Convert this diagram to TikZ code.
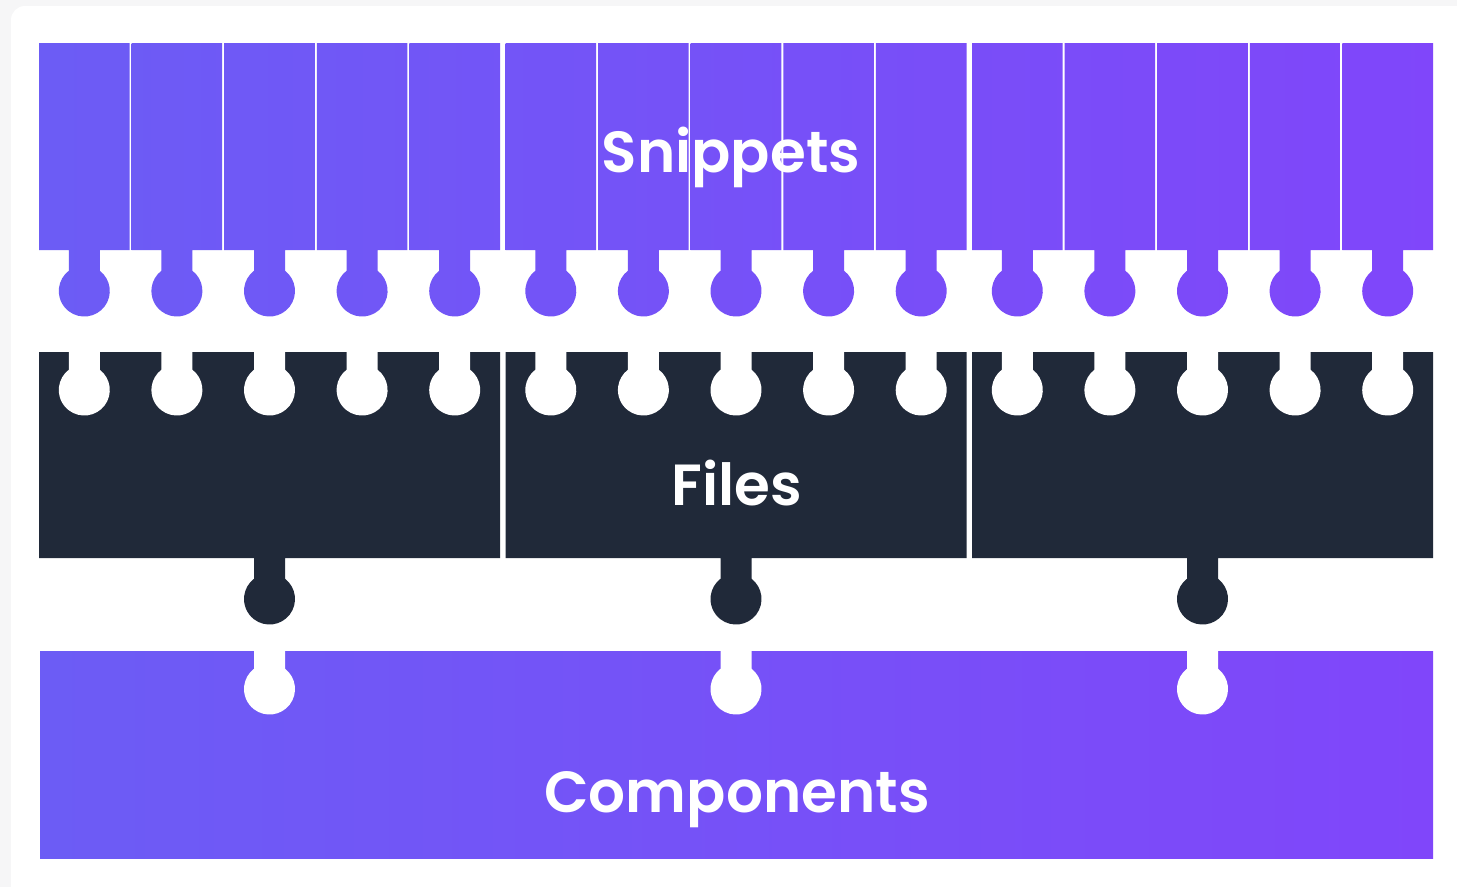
\documentclass[tikz,border=0pt]{standalone}
\usepackage{fontspec}
\newfontfamily\titlefont{Poppins SemiBold}

\definecolor{snipL}{RGB}{108,92,245}
\definecolor{snipR}{RGB}{128,70,250}
\definecolor{fileDark}{RGB}{32,41,57}
\definecolor{pageGrey}{RGB}{246,246,247}

\tikzset{
  title text/.style={text=white, font=\titlefont\fontsize{58}{58}\selectfont, anchor=base, inner sep=0pt},
}

\begin{document}
\begin{tikzpicture}[x=1pt,y=-1pt]
  \useasboundingbox (0,0) rectangle (1457,887);

  % Card
  \fill[pageGrey] (0,0) rectangle (1457,887);
  \fill[white, rounded corners=14pt] (11,6) rectangle (1480,910);

  % Snippets, three groups of five, each with a tab below
  \foreach \g in {0,1,2}{
    \foreach \c in {0,...,4}{
      \pgfmathsetmacro\xl{39+466.5*\g+92.6*\c}
      \pgfmathsetmacro\xr{\xl+90.6}
      \pgfmathsetmacro\cx{\xl+45.3}
      \pgfmathtruncatemacro\pl{(\xl-39)/13.94}
      \pgfmathtruncatemacro\pr{(\xr-39)/13.94}
      \shade[left color=snipR!\pl!snipL, right color=snipR!\pr!snipL]
        (\xl,43) -- (\xr,43) -- (\xr,250) -- (\cx+15.5,250) -- (\cx+15.5,270.75)
        arc[start angle=-52.57, end angle=232.57, radius=25.5]
        -- (\cx-15.5,250) -- (\xl,250) -- cycle;
    }
  }

  % Files, one tab below each
  \foreach \g/\cx in {0/269.5,1/736,2/1202.5}{
    \pgfmathsetmacro\xl{39+466.5*\g}
    \fill[fileDark] (\xl,352) -- (\xl+461,352) -- (\xl+461,558) -- (\cx+15.5,558) -- (\cx+15.5,578.75)
      arc[start angle=-52.57, end angle=232.57, radius=25.5]
      -- (\cx-15.5,558) -- (\xl,558) -- cycle;
  }
  % slots for the snippet tabs
  \foreach \g in {0,1,2}{
    \foreach \c in {0,...,4}{
      \pgfmathsetmacro\cx{39+466.5*\g+92.6*\c+45.3}
      \fill[white] (\cx-15.5,350) -- (\cx+15.5,350) -- (\cx+15.5,369.75)
        arc[start angle=-52.57, end angle=232.57, radius=25.5] -- cycle;
    }
  }

  % Components with three slots
  \shade[left color=snipL, right color=snipR] (40,651) rectangle (1433,858);
  \foreach \cx in {269.5,736,1202.5}{
    \fill[white] (\cx-15.5,649) -- (\cx+15.5,649) -- (\cx+15.5,668.75)
      arc[start angle=-52.57, end angle=232.57, radius=25.5] -- cycle;
  }

  % Labels
  \node[title text] (snippets) at (731,172) {Snippets};
  \node[title text] (files) at (737,505) {Files};
  \node[title text] (components) at (737,812) {Components};
\end{tikzpicture}
\end{document}
